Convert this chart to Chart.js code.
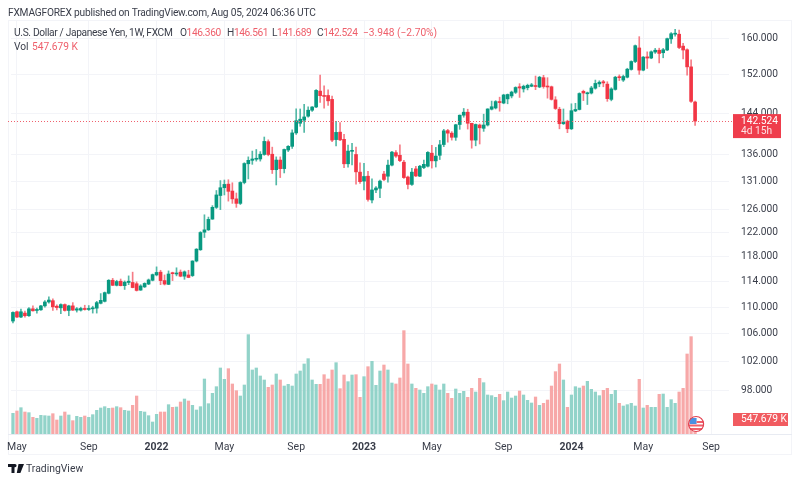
<!DOCTYPE html>
<html><head><meta charset="utf-8">
<script src="https://cdn.jsdelivr.net/npm/chart.js@4"></script>
<style>
html,body{margin:0;padding:0;background:#fff;width:800px;height:482px;overflow:hidden}
body{font-family:Roboto,"Noto Sans",sans-serif;position:relative}
canvas{position:absolute;left:0;top:0}
.t{position:absolute;font-size:10.2px;line-height:12px;white-space:nowrap;color:#3a3e4a}
.n{letter-spacing:-.33px}
.d{letter-spacing:-.4px}
.r{color:#ee5f6b}
#frame{position:absolute;left:8px;top:20px;width:784px;height:435px;box-sizing:border-box;border:1px solid #f3f4f8}
</style></head>
<body>
<div id="frame"></div>
<canvas id="c" width="800" height="482"></canvas>
<div class="t" style="left:8px;top:7px;letter-spacing:-.2px">FXMAGFOREX published on TradingView.com, Aug 05, 2024 06:36 UTC</div>
<div class="t n" style="left:14px;top:27px">U.S. Dollar / Japanese Yen, 1W, FXCM</div>
<div class="t d" style="left:180px;top:27px">O<span class="r">146.360</span></div>
<div class="t d" style="left:227px;top:27px">H<span class="r">146.561</span></div>
<div class="t d" style="left:272px;top:27px">L<span class="r">141.689</span></div>
<div class="t d" style="left:317px;top:27px">C<span class="r">142.524</span></div>
<div class="t r" style="left:363px;top:27px">−3.948 (−2.70%)</div>
<div class="t" style="left:14px;top:41px">Vol</div>
<div class="t r" style="left:32px;top:41px">547.679 K</div>
<svg style="position:absolute;left:8px;top:464px" width="16" height="10" viewBox="0 0 16 10"><path d="M0 0h6.5v9H3.5V3H0zM7 0a1.6 1.6 0 1 1 0 3.2A1.6 1.6 0 0 1 7 0zM10.5 0H16l-3.6 9H8.8z" fill="#131722"/></svg>
<div class="t" style="left:26px;top:462px;font-size:10.4px;line-height:14px;color:#3a3e4a">TradingView</div>
<script>
const categories = Array.from({length: 180}, (_, i) => new Date(Date.UTC(2021, 3, 26 + 7 * i)).toISOString().slice(0, 10));
const tickWeeks = [1, 19, 36, 53, 71, 88, 105, 123, 140, 158, 175];
const tickLabels = ['May', 'Sep', '2022', 'May', 'Sep', '2023', 'May', 'Sep', '2024', 'May', 'Sep'];
const priceTicks = [160, 152, 144, 136, 131, 126, 122, 118, 114, 110, 106, 102, 98];
const opens = [
107.9,109.3,108.5,109.1,108.7,109.75,109.5,109.6,110.2,110.8,
111.0,110.15,109.9,110.4,109.5,110.2,109.55,109.55,109.8,109.65,
109.75,109.85,110.6,110.9,112.15,114.2,113.4,114.05,113.35,113.85,
113.85,113.65,112.65,113.15,113.6,114.2,115.05,115.5,114.15,113.55,
115.3,115.2,115.5,114.85,115.05,114.95,117.3,119.15,122.1,122.5,
124.35,126.4,128.5,129.9,130.55,129.3,127.9,127.1,130.85,134.3,
134.95,135.15,135.2,136.05,138.5,136.1,133.2,135,133.4,136.9,
137.6,140.2,142.1,142.7,143.5,144.7,145.35,148.6,147.65,147.7,
146.9,138.9,140.35,138.95,134.3,136.65,136.05,132.75,131.1,132,
127.7,129.5,129.8,132.4,132,134.05,136.4,135.9,134.6,131.85,
130.5,133.35,132,133.6,133.85,136.3,134.85,135.9,137.95,140.65,
140.15,139.35,141.85,143.7,144.3,142.1,138.8,141.75,141.1,141.75,
144.9,145.15,146.4,146.15,147,147.6,148.35,149.5,149.05,149.3,
149.6,149.7,149.45,151.4,149.65,149.5,146.8,144.9,142,142.5,
141,144.55,144.85,148.55,148.05,148.2,149.2,150.1,150.55,150.05,
146.9,148.95,151.55,150.9,151.5,153.15,154.85,157.8,153,155.85,
155.6,156.9,157.3,156.75,157.35,159.8,160.85,160.85,158.2,157.4,153.7,146.36];
const highs = [
109.3,109.4,109.7,109.4,109.95,110.2,109.85,110.3,111.0,111.6,
111.3,110.35,110.5,110.5,110.3,110.7,109.95,110,110.3,110.25,
110.15,110.9,112.1,112.35,114.3,114.5,114.2,114.4,114.1,114.9,
115.5,113.95,113.5,113.8,114.4,115.2,116.35,115.8,115.05,115.7,
115.5,116.2,115.85,115.7,115.8,117.35,119.35,122.2,125.1,124.7,
126.7,129.4,131.2,131.3,131.35,130.8,128.95,131,134.5,135.6,
136.7,137,136.6,139.4,138.85,137.45,135.6,135.6,137.1,137.75,
140.8,144.98,144.95,145.9,145.4,145.45,148.9,151.95,149.7,148.85,
147.55,142.5,142.25,139.9,137.85,138.2,137.45,134.5,134.4,132.9,
131.5,130.1,131.3,132.9,135,136.65,136.8,137.9,134.95,132,
133.45,133.85,134,135,136.6,137.8,137.4,138.75,140.9,140.9,
140.45,141.9,143.75,145.05,144.9,142.1,141.95,141.95,143.9,145,
146.55,146.65,147.35,147.95,148,148.6,149.5,150.15,149.85,150.05,
150.2,151.75,151.7,151.9,151.4,149.65,147.45,145.3,144.95,142.7,
146,146.1,148.25,148.8,148.4,149.6,150.9,150.75,150.85,150.55,
149.3,151.7,152,151.95,153.4,155,158.45,160.3,155.95,156.95,
157.15,157.7,157.75,157.7,160,161.2,161.95,161.75,158.8,157.6,155.2,146.561];
const lows = [
107.6,108.4,108.4,108.5,108.6,109.4,109.1,109.5,110,110.6,
109.5,109.6,109,109.4,108.7,109.5,109.25,109.4,109.55,109.5,
109.1,109.1,110.5,110.8,112.05,113.35,113.3,113.3,112.75,113.5,
113,112.5,112.6,113.05,113.5,114.1,114.9,113.5,113.45,113.5,
114.15,114.9,114.75,114.35,114.6,114.8,117.15,119.05,121.2,122.4,
124.3,126.2,126,128.6,127.5,127.1,126.4,126.9,130.6,131.5,
134.2,134.8,134.8,135.9,135.8,132.5,130.4,131.75,132.6,136.6,
137.2,139.9,141.5,140.3,143.3,144.45,145.2,146.3,145.1,145.65,
138.5,137.7,138.7,133.6,133.65,134.1,130.55,130.7,129.5,127.5,
127.2,129,128.1,131.2,130.9,133.9,135.5,134.7,131.6,129.7,
130.3,131.9,131.9,133.4,133.7,133.5,133.7,135.1,137.55,138.4,
138.8,138.75,140.9,143.3,140.95,137.25,137.7,138.05,140.5,141.55,
144.75,144.95,144.5,146,146,147.2,148.1,147.3,148.4,148.85,
149.5,148.9,149.3,149.2,147.15,146.75,144.85,141,141.85,140.25,
140.85,144.4,144.75,146.65,145.85,148,149,149.5,149.5,146.5,
146.6,148.8,150.8,150.6,151.35,153,154.6,152.1,152.85,153.35,
155.45,156.6,154.55,155.65,157.2,158.8,160.4,157.65,155.4,151.95,146.3,141.689];
const closes = [
109.2,108.5,109.3,108.7,109.75,109.45,109.65,110.2,110.8,111.1,
110.05,109.95,110.4,109.5,110.2,109.55,109.75,109.8,109.65,109.8,
109.85,110.7,111.05,112.25,114.2,113.4,114,113.35,113.9,114.05,
113.05,112.6,113.3,113.7,114.25,115.1,115.45,114.15,113.6,115.2,
115.25,115.35,114.85,115.55,114.65,117.3,119.25,122.05,122.5,124.3,
126.4,128.6,129.9,130.5,129.25,127.9,127.1,130.85,134.35,134.95,
135.2,135.25,136.1,138.55,136.05,133.2,135,133.4,137,137.6,
140.2,142.6,142.9,143.35,144.7,145.35,148.75,147.65,147.5,146.6,
138.8,140.3,138.85,134.3,136.7,136.75,132.8,131,131.95,127.8,
129.5,129.85,131.1,131.4,134.05,136.5,135.75,134.9,131.75,130.5,
132.75,132.05,133.85,134.2,136.45,134.85,135.75,137.9,140.6,140.15,
139.35,141.8,143.7,144.3,142.1,138.8,141.85,141.2,141.75,144.95,
145.4,146.45,146.25,147.8,147.9,148.4,149.35,149.25,149.6,149.8,
149.9,149.55,151.5,149.55,149.45,146.9,145.05,142,142.35,141,
144.6,144.85,148.1,148.2,148.25,149.25,150.2,150.45,150.3,147.05,
149.05,151.5,151.4,151.65,153.2,154.85,158.3,153,155.8,155.6,
156.95,157.3,156.6,157.4,159.85,160.95,161,157.9,157.35,153.7,146.5,142.524];
const volumes = [
755,840,961,803,779,609,572,682,669,657,
742,511,657,803,694,487,645,609,657,609,
706,864,949,998,937,949,998,961,864,840,
1047,1387,828,803,669,438,718,803,803,1071,
974,986,1168,1278,1205,1047,876,998,2008,1107,
1485,1728,2410,1996,2385,1826,1582,1387,1789,3627,
2337,2410,2118,1972,1704,1789,2191,1972,1752,1813,
1752,2191,2300,2556,2750,1972,1813,1813,2166,2008,
2337,2604,1655,2154,1911,2154,2166,1339,2093,2458,
2653,1777,2300,2519,2337,1862,1826,2045,3773,2556,
1826,1667,1606,1485,1728,1826,1789,1606,1826,1485,
1302,1643,1485,1558,1339,1667,1533,2032,1874,1424,
1400,1339,1448,1217,1533,1314,1387,1570,1424,1229,
1132,1351,1047,1120,1241,1752,2276,2556,1972,974,
1424,1728,1679,1752,1923,1631,1533,1400,1594,1667,
1448,1594,1120,1022,1071,1120,1022,1996,949,1047,
974,974,1448,1460,974,1254,1120,1533,1667,2921,3554,547.679];

const UP = '#089981', DOWN = '#f23645', UP_W = '#52b8a6', DOWN_W = '#f67c86', UP_V = '#92d3c9', DOWN_V = '#f7a8a8';
const isUp = i => closes[i] >= opens[i];
const lastClose = closes[closes.length - 1], lastVol = volumes[volumes.length - 1], lastIdx = closes.length - 1;
const FONT = 'Roboto';

const overlay = {
  id: 'overlay',
  afterDraw(ch) {
    const c = ch.ctx, x = ch.scales.x, y = ch.scales.y, v = ch.scales.v;
    c.save();
    c.strokeStyle = '#e8ebf2'; c.lineWidth = 1;
    c.beginPath(); c.moveTo(8, Math.round(x.top) + .5); c.lineTo(792, Math.round(x.top) + .5); c.stroke();
    const py = y.getPixelForValue(lastClose);
    c.strokeStyle = '#f0616d'; c.setLineDash([1, 2]);
    c.beginPath(); c.moveTo(8, Math.round(py) + .5); c.lineTo(x.right + 4, Math.round(py) + .5); c.stroke();
    c.setLineDash([]);
    c.fillStyle = '#ef3d4c';
    c.fillRect(733, py - 7, 48, 24);
    c.fillStyle = '#fff'; c.font = '10.2px ' + FONT; c.textAlign = 'left'; c.textBaseline = 'middle';
    c.fillText(lastClose.toFixed(3), 741, py + 0.5);
    c.globalAlpha = .85; c.fillText('4d 15h', 741, py + 10.5); c.globalAlpha = 1;
    const vy = v.getPixelForValue(lastVol);
    c.fillStyle = '#f15b60';
    c.fillRect(733, vy - 6, 55, 13);
    c.fillStyle = '#fff'; c.fillText(lastVol.toFixed(3) + ' K', 741, vy + 0.5);
    const fx = x.getPixelForValue(lastIdx) + 1, fy = x.top - 10;
    c.beginPath(); c.arc(fx, fy, 8, 0, 2 * Math.PI); c.fillStyle = '#fff'; c.fill();
    c.save(); c.clip();
    c.fillStyle = '#f0616d';
    c.fillRect(fx - 8, fy + 0.5, 16, 2); c.fillRect(fx - 8, fy + 4, 16, 2);
    c.fillStyle = '#4a90e2'; c.fillRect(fx - 6.5, fy - 6, 7, 6);
    c.fillStyle = '#f0616d'; c.fillRect(fx + 0.5, fy - 3, 7, 2);
    c.restore();
    c.beginPath(); c.arc(fx, fy, 7.5, 0, 2 * Math.PI); c.strokeStyle = '#e2404f'; c.lineWidth = 1.2; c.stroke();
    c.restore();
  }
};

new Chart(document.getElementById('c'), {
  type: 'bar',
  data: {
    labels: categories,
    datasets: [
      { label: 'Volume', yAxisID: 'v', data: volumes, grouped: false, order: 3, barThickness: 2.6,
        backgroundColor: volumes.map((_, i) => isUp(i) ? UP_V : DOWN_V) },
      { label: 'Wick', yAxisID: 'y', data: lows.map((l, i) => [l, highs[i]]), grouped: false, order: 2, barThickness: 1,
        backgroundColor: closes.map((_, i) => isUp(i) ? UP_W : DOWN_W) },
      { label: 'Body', yAxisID: 'y', data: opens.map((o, i) => [o, closes[i]]), grouped: false, order: 1, barThickness: 3, minBarLength: 1,
        backgroundColor: closes.map((_, i) => isUp(i) ? UP : DOWN) }
    ]
  },
  options: {
    responsive: false, animation: false, devicePixelRatio: 1,
    layout: { padding: { left: 8, right: 8, top: 20, bottom: 27 } },
    plugins: { legend: { display: false }, tooltip: { enabled: false } },
    scales: {
      x: {
        type: 'category', offset: true,
        grid: { color: '#f3f4f8', offset: false, drawTicks: false },
        border: { display: false },
        afterBuildTicks: s => { s.ticks = tickWeeks.map(v => ({ value: v })); },
        afterFit: s => { s.height = 21; },
        ticks: {
          autoSkip: false, maxRotation: 0, padding: 7, color: '#3a3e4a',
          font: ctx => ({ family: FONT, size: 10.5, weight: tickLabels[ctx.index] && tickLabels[ctx.index].length === 4 ? 'bold' : 'normal' }),
          callback: (v, i) => tickLabels[i]
        }
      },
      y: {
        type: 'logarithmic', position: 'right', min: 92.2, max: 164.06,
        grid: { color: '#f3f4f8', drawTicks: false },
        border: { display: false },
        afterBuildTicks: s => { s.ticks = priceTicks.map(v => ({ value: v })); },
        afterFit: s => { s.width = 63; },
        ticks: {
          autoSkip: false, padding: 12, color: '#3a3e4a', font: { family: FONT, size: 10.2 },
          callback: v => Number(v).toFixed(3)
        }
      },
      v: { type: 'linear', display: false, min: 0, max: 15115 }
    }
  },
  plugins: [overlay]
});
</script>
</body></html>
